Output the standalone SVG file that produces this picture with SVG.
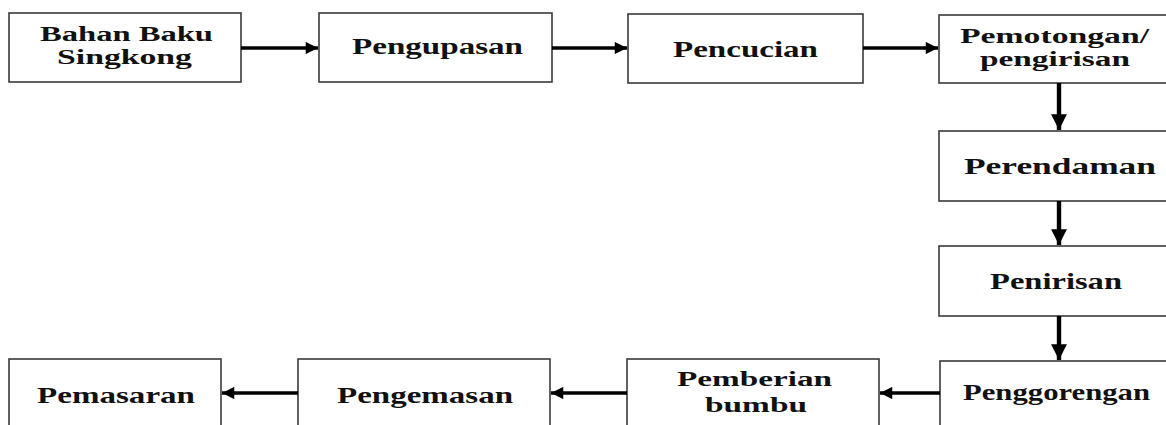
<svg xmlns="http://www.w3.org/2000/svg" width="1166" height="425" viewBox="0 0 1166 425">
<style>
.box{fill:#fff;stroke:#3a3a3a;stroke-width:1.6}
.t{font-family:"Liberation Serif","Times New Roman",serif;font-weight:bold;font-size:23.5px;fill:#111}
.t2{font-size:20.5px}
.c{stroke:#000;stroke-width:3.4;fill:none}
.v{stroke-width:4.4}
</style>
<defs>
<marker id="ah" viewBox="0 0 10 10" refX="10" refY="5" markerWidth="4.2" markerHeight="3.6" markerUnits="strokeWidth" orient="auto">
<path d="M0,0 L10,5 L0,10 z" fill="#000"/>
</marker>
</defs>
<rect width="1166" height="425" fill="#fff"/>
<g id="n1"><rect class="box" x="9" y="13" width="232" height="69"/>
<text class="t t2" x="40" y="41" textLength="173" lengthAdjust="spacingAndGlyphs">Bahan Baku</text>
<text class="t t2" x="57" y="64" textLength="135" lengthAdjust="spacingAndGlyphs">Singkong</text></g>
<g id="n2"><rect class="box" x="319" y="13" width="233" height="69"/>
<text class="t" x="352" y="54" textLength="171" lengthAdjust="spacingAndGlyphs">Pengupasan</text></g>
<g id="n3"><rect class="box" x="628" y="14" width="235" height="69"/>
<text class="t" x="673" y="57" textLength="145" lengthAdjust="spacingAndGlyphs">Pencucian</text></g>
<g id="n4"><rect class="box" x="939" y="15" width="240" height="68"/>
<text class="t t2" x="960" y="43" textLength="189" lengthAdjust="spacingAndGlyphs">Pemotongan/</text>
<text class="t t2" x="980" y="66" textLength="150" lengthAdjust="spacingAndGlyphs">pengirisan</text></g>
<g id="n5"><rect class="box" x="939" y="131" width="240" height="70"/>
<text class="t" x="964" y="174" textLength="192" lengthAdjust="spacingAndGlyphs">Perendaman</text></g>
<g id="n6"><rect class="box" x="939" y="246" width="240" height="70"/>
<text class="t" x="990" y="289" textLength="132" lengthAdjust="spacingAndGlyphs">Penirisan</text></g>
<g id="n7"><rect class="box" x="940" y="361" width="240" height="80"/>
<text class="t" x="963" y="400" textLength="187" lengthAdjust="spacingAndGlyphs">Penggorengan</text></g>
<g id="n8"><rect class="box" x="627" y="359" width="252" height="80"/>
<text class="t t2" x="677" y="386" textLength="155" lengthAdjust="spacingAndGlyphs">Pemberian</text>
<text class="t t2" x="705" y="412" textLength="102" lengthAdjust="spacingAndGlyphs">bumbu</text></g>
<g id="n9"><rect class="box" x="298" y="359" width="252" height="80"/>
<text class="t" x="337" y="403" textLength="176" lengthAdjust="spacingAndGlyphs">Pengemasan</text></g>
<g id="n10"><rect class="box" x="9" y="359" width="212" height="80"/>
<text class="t" x="37" y="403" textLength="158" lengthAdjust="spacingAndGlyphs">Pemasaran</text></g>
<g id="connectors">
<line class="c" x1="241" y1="48" x2="318" y2="48" marker-end="url(#ah)"/>
<line class="c" x1="552" y1="48" x2="627" y2="48" marker-end="url(#ah)"/>
<line class="c" x1="863" y1="48" x2="938" y2="48" marker-end="url(#ah)"/>
<line class="c v" x1="1059" y1="83" x2="1059" y2="130" marker-end="url(#ah)"/>
<line class="c v" x1="1059" y1="201" x2="1059" y2="245" marker-end="url(#ah)"/>
<line class="c v" x1="1059" y1="316" x2="1059" y2="360" marker-end="url(#ah)"/>
<line class="c" x1="940" y1="393" x2="880" y2="393" marker-end="url(#ah)"/>
<line class="c" x1="627" y1="393" x2="551" y2="393" marker-end="url(#ah)"/>
<line class="c" x1="298" y1="393" x2="222" y2="393" marker-end="url(#ah)"/>
</g>
</svg>
